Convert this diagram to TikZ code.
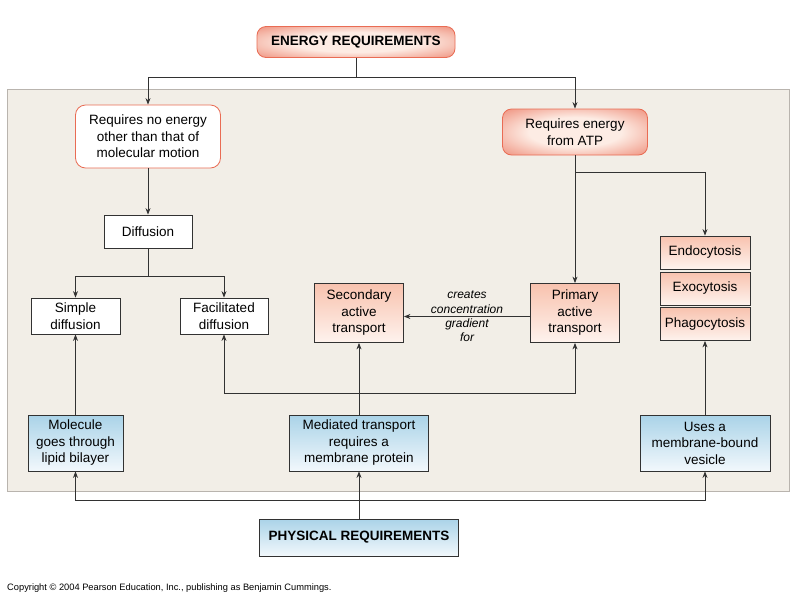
\documentclass[tikz,border=0pt]{standalone}
\usepackage{fontspec}
\setmainfont{Liberation Sans}
\usepackage{xcolor}
\definecolor{panelfill}{RGB}{242, 238, 231}
\definecolor{panelline}{RGB}{185, 180, 174}
\definecolor{salmonout}{RGB}{233, 108, 84}
\definecolor{salmonin}{RGB}{253, 236, 228}
\definecolor{salmontop}{RGB}{248, 194, 174}
\definecolor{salmonbot}{RGB}{254, 243, 238}
\definecolor{bluetop}{RGB}{170, 211, 232}
\definecolor{bluebot}{RGB}{242, 248, 252}
\definecolor{linkcolor}{RGB}{50, 50, 50}
\usepackage{tikz}
\usetikzlibrary{arrows.meta, calc}
\pgfdeclareradialshading{glow}{\pgfpoint{0bp}{0bp}}{color(0bp)=(salmonin); color(16bp)=(salmonin); color(44bp)=(salmonout); color(75bp)=(salmonout)}
\tikzset{
  base/.style={draw=linkcolor, line width=0.8pt, inner sep=0pt, align=center,
    font=\fontsize{13.5}{16.5}\selectfont},
  glowbox/.style={base, draw=salmonout, rounded corners=9pt, shade, shading=glow},
  softbox/.style={base, draw=salmonout, rounded corners=10pt, fill=white},
  plainbox/.style={base, fill=white},
  pinkbox/.style={base, top color=salmontop, bottom color=salmonbot},
  bluebox/.style={base, top color=bluetop, bottom color=bluebot},
  arrowline/.style={-{Stealth[length=6.5pt,width=5pt]}, draw=linkcolor, line width=0.8pt},
  gradlabel/.style={align=center, inner sep=0pt, font=\itshape\fontsize{12}{14.3}\selectfont}
}

\begin{document}
\begin{tikzpicture}[x=1pt, y=-1pt]
  \useasboundingbox (0,0) rectangle (798,600);
  \fill[white] (0,0) rectangle (798,600);
  \draw[fill=panelfill, draw=panelline, line width=0.9pt] (7.5,89.5) rectangle (789,491);

  % energy side
  \node[glowbox, minimum width=198, minimum height=31, font=\bfseries\fontsize{13.5}{16.5}\selectfont]
    (energy) at (356,42) {ENERGY REQUIREMENTS};
  \node[softbox, minimum width=145, minimum height=63] (noenergy) at (148,136.5)
    {Requires no energy\\other than that of\\molecular motion};
  \node[glowbox, minimum width=145, minimum height=46] (atp) at (575,132)
    {Requires energy\\from ATP};
  \node[plainbox, minimum width=88, minimum height=33] (diffusion) at (148,231.5) {Diffusion};
  \node[plainbox, minimum width=89, minimum height=36] (simple) at (75.5,316) {Simple\\diffusion};
  \node[plainbox, minimum width=88, minimum height=36] (facil) at (224,316) {Facilitated\\diffusion};
  \node[pinkbox, minimum width=89, minimum height=59] (second) at (359,313)
    {Secondary\\active\\transport};
  \node[pinkbox, minimum width=89, minimum height=59] (primary) at (575,313)
    {Primary\\active\\transport};
  \node[pinkbox, minimum width=90, minimum height=33] (endo) at (705,252.5) {Endocytosis};
  \node[pinkbox, minimum width=90, minimum height=33] (exo) at (705,288.5) {Exocytosis};
  \node[pinkbox, minimum width=90, minimum height=33] (phago) at (705,324) {Phagocytosis};

  % physical side
  \node[bluebox, minimum width=95, minimum height=56] (molecule) at (75.5,443)
    {Molecule\\goes through\\lipid bilayer};
  \node[bluebox, minimum width=139, minimum height=56] (mediated) at (359,443)
    {Mediated transport\\requires a\\membrane protein};
  \node[bluebox, minimum width=130, minimum height=56] (vesicle) at (705,443)
    {Uses a\\membrane-bound\\vesicle};
  \node[bluebox, minimum width=199, minimum height=37, font=\bfseries\fontsize{13.5}{16.5}\selectfont]
    (physical) at (359,537.5) {PHYSICAL REQUIREMENTS};

  \node[anchor=base west, inner sep=0pt, font=\fontsize{9.3}{11}\selectfont]
    (copyright) at (7,590) {Copyright © 2004 Pearson Education, Inc., publishing as Benjamin Cummings.};

  % connectors from the top
  \coordinate (ebus) at (356,77);
  \coordinate (dbus) at (148,276);
  \coordinate (abus) at (575,172);
  \draw[arrowline] (energy.south) -- (ebus) -| (noenergy.north);
  \draw[arrowline] (ebus) -| (atp.north);
  \draw[arrowline] (noenergy.south) -- (diffusion.north);
  \draw[arrowline] (diffusion.south) -- (dbus) -| (simple.north);
  \draw[arrowline] (dbus) -| (facil.north);
  \draw[arrowline] (atp.south) -- (primary.north);
  \draw[arrowline] (abus) -| (endo.north);
  \draw[arrowline] ([yshift=-3.5pt]primary.west) -- ([yshift=-3.5pt]second.east)
    node[midway, gradlabel] (grad) {creates\\concentration\\gradient\\for};

  % connectors from the bottom
  \coordinate (mbus) at (359,393);
  \coordinate (pbus) at (359,500);
  \draw[arrowline] (molecule.north) -- (simple.south);
  \draw[arrowline] (mediated.north) -- (second.south);
  \draw[arrowline] (mbus) -| (facil.south);
  \draw[arrowline] (mbus) -| (primary.south);
  \draw[arrowline] (vesicle.north) -- (phago.south);
  \draw[arrowline] (physical.north) -- (mediated.south);
  \draw[arrowline] (pbus) -| (molecule.south);
  \draw[arrowline] (pbus) -| (vesicle.south);
\end{tikzpicture}
\end{document}
